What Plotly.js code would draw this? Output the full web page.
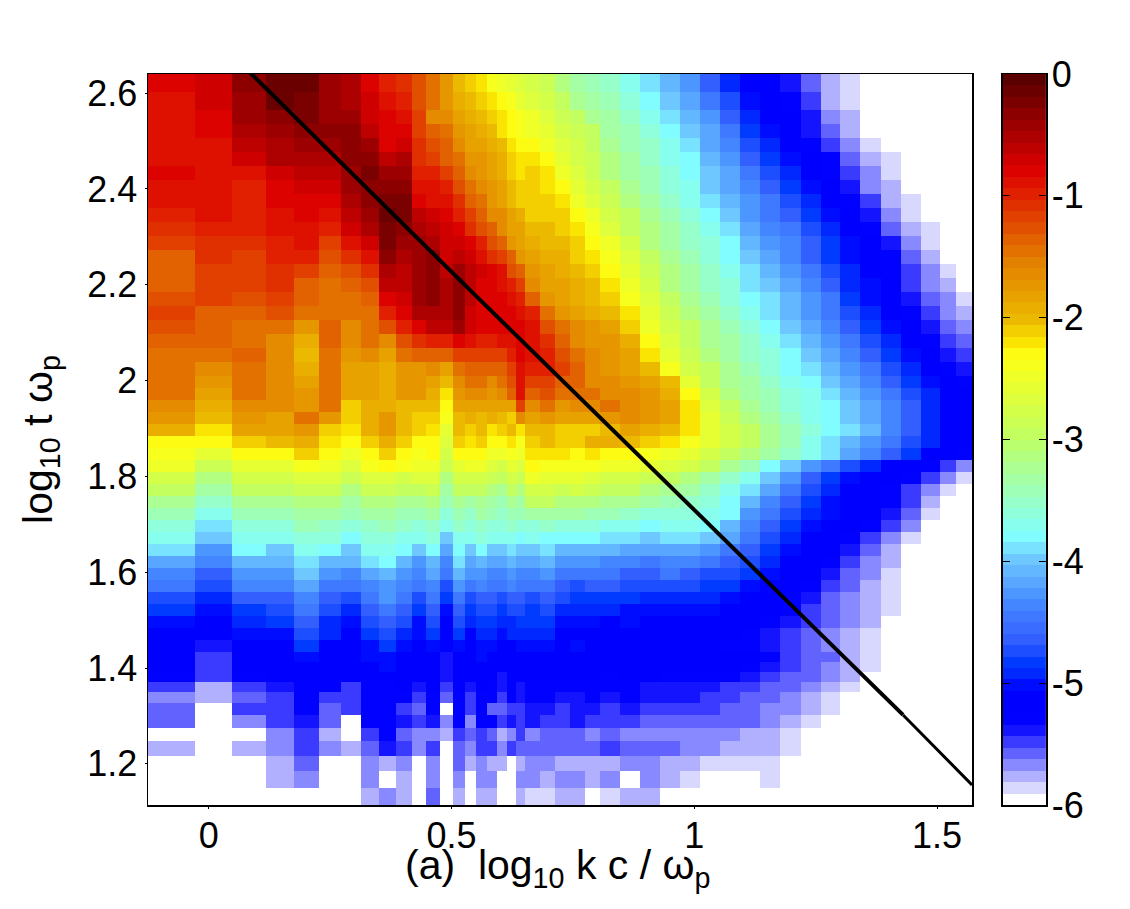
<!DOCTYPE html>
<html>
<head>
<meta charset="utf-8">
<script src="https://cdn.plot.ly/plotly-3.0.1.min.js"></script>
<style>body{margin:0;background:#fff}</style>
</head>
<body>
<div id="chart" style="width:1130px;height:909px"></div>
<script>
"use strict";

// cell edges, log10 k c/wp and log10 t wp
const kEdges = [-0.125,-0.029,0.049,0.118,0.175,0.227,0.272,0.313,0.351,0.386,0.419,0.447,0.476,0.503,0.528,0.551,0.573,0.594,0.614,0.633,0.652,0.682,0.713,0.744,0.775,0.806,0.847,0.889,0.930,0.971,1.012,1.054,1.095,1.136,1.177,1.219,1.260,1.301,1.342,1.384,1.425,1.466,1.507,1.538,1.572];
const tEdges = [1.114,1.149,1.185,1.216,1.248,1.275,1.302,1.327,1.350,1.371,1.392,1.413,1.433,1.458,1.484,1.509,1.534,1.559,1.584,1.609,1.634,1.659,1.684,1.709,1.734,1.759,1.784,1.809,1.834,1.859,1.884,1.909,1.934,1.959,1.985,2.010,2.039,2.068,2.097,2.127,2.156,2.185,2.214,2.243,2.273,2.302,2.331,2.360,2.389,2.418,2.448,2.477,2.506,2.535,2.564,2.602,2.640];

// minus the colour value in tenths, bottom row first; rows stop where the rest is white
const depthRows = [
[60,60,60,60,60,60,60,58,57,58,60,56,60,58,60,58,58,60,60,58,59,59,58,58,60,59,58,58],
[60,60,60,58,57,60,60,57,60,58,60,57,60,57,60,57,57,60,60,57,57,58,57,57,58,57,60,57,58,59,60,60,60,59],
[60,60,60,58,56,60,60,57,58,57,60,57,60,56,58,57,58,58,60,58,57,57,58,58,58,58,57,57,58,58,59,59,59,59],
[58,60,58,57,55,57,58,56,54,55,57,55,60,56,57,55,55,57,55,56,56,56,56,56,56,55,56,56,56,57,57,58,58,58,59],
[60,60,60,57,55,58,60,55,53,56,57,57,58,55,56,55,56,58,57,55,57,56,56,56,57,56,57,57,57,57,57,57,58,58,59],
[56,60,57,55,54,56,60,53,53,54,55,54,57,53,57,53,53,55,54,55,54,55,55,54,55,55,55,56,56,56,56,56,56,57,58,59],
[56,60,55,55,53,56,55,53,53,55,56,53,60,53,55,53,56,56,55,55,54,54,55,54,54,55,54,55,55,55,55,56,56,57,57,58,59],
[57,58,56,55,53,55,55,53,53,53,55,53,56,53,55,53,53,55,53,54,53,53,54,54,53,54,53,54,54,54,55,55,56,56,57,58,59],
[55,58,55,54,53,52,55,53,53,52,54,52,55,52,54,52,53,54,52,54,53,53,53,53,53,53,53,54,54,54,54,55,55,56,56,57,58,59],
[53,55,53,52,52,52,52,51,51,52,52,52,54,52,52,52,52,54,52,52,52,52,52,52,52,53,52,52,53,53,53,53,54,55,56,56,57,58],
[52,55,52,52,52,52,52,51,50,52,52,51,54,52,52,51,51,52,52,52,52,52,52,52,52,52,52,52,52,52,52,52,53,54,55,56,57,58,59],
[52,55,52,52,50,52,52,50,50,51,52,51,54,51,52,50,51,52,52,52,51,51,51,51,51,51,51,51,52,52,52,52,52,53,55,56,56,58,59],
[52,54,52,51,48,51,52,50,48,50,51,50,53,50,52,50,50,51,51,50,50,50,51,50,51,51,51,52,52,52,52,53,53,54,55,56,57,58,59],
[51,52,50,50,47,49,51,48,47,49,50,48,51,48,51,49,49,50,49,49,49,49,51,51,51,51,51,51,52,52,52,52,53,54,55,56,57,58,59],
[50,51,49,48,46,49,50,47,46,47,50,47,51,47,49,48,48,49,49,48,48,48,50,50,50,51,50,51,51,51,51,52,52,53,54,55,56,57,58],
[48,50,48,47,45,47,49,46,45,46,48,46,50,46,48,47,47,48,47,47,48,47,49,49,49,49,50,50,50,50,50,51,52,52,53,55,56,57,58,59],
[47,49,46,46,44,46,47,45,43,45,47,45,48,45,47,46,46,47,46,46,47,46,47,48,48,48,48,49,49,49,49,50,51,52,53,54,56,57,58,59],
[45,47,44,44,42,45,45,44,43,44,45,44,47,43,45,44,45,45,44,45,45,45,46,47,46,46,47,47,47,47,48,48,50,51,52,53,55,56,58,59],
[44,46,43,43,40,43,44,42,41,43,44,42,45,41,43,43,44,44,43,44,44,43,45,45,45,45,46,46,45,46,47,47,48,50,51,52,54,56,57,59],
[42,44,41,41,39,41,41,39,38,41,43,41,44,39,42,41,42,42,41,42,42,41,43,43,43,44,44,45,44,44,45,46,47,49,51,52,53,55,57,58],
[39,43,38,40,37,38,40,37,37,38,40,38,42,38,40,38,40,40,39,40,40,39,41,41,41,41,42,42,42,42,43,45,46,48,50,52,52,54,56,58],
[37,40,37,37,36,36,38,36,36,37,37,36,40,37,37,36,37,37,37,38,37,38,38,38,38,39,39,40,39,39,40,42,45,47,49,51,52,53,55,57,59],
[36,39,36,36,34,35,36,35,34,35,36,35,37,35,36,35,36,36,35,36,36,35,36,36,36,37,37,38,37,37,38,41,44,46,48,50,51,52,53,55,57],
[34,37,34,34,33,33,34,33,33,34,34,33,36,34,35,33,34,35,34,34,33,33,33,33,34,34,35,36,36,36,37,38,43,45,47,49,50,52,52,54,56,59],
[32,35,32,32,31,31,33,31,31,32,32,31,34,32,33,32,33,34,32,33,30,30,31,31,31,32,32,33,34,35,36,38,41,44,46,48,50,51,52,53,55,58],
[30,33,30,30,29,29,31,29,29,30,30,29,33,30,30,30,31,32,30,31,28,28,29,28,29,30,30,31,32,33,35,37,39,42,45,47,49,51,52,53,55,57,59],
[28,31,28,28,27,27,29,27,27,28,27,27,31,28,28,28,29,30,28,29,25,26,26,26,27,28,28,29,30,31,33,35,37,40,43,46,48,50,51,52,53,55,57,59],
[25,29,26,26,24,25,27,24,23,24,25,25,29,26,25,25,27,28,26,27,23,24,24,24,24,25,25,26,27,28,30,32,34,38,40,43,45,47,49,51,52,53,55,57],
[24,26,23,23,21,23,25,23,21,23,24,23,28,23,23,23,25,25,24,25,22,22,22,23,22,23,23,24,25,26,28,30,31,33,35,37,39,42,44,46,48,51,52,53],
[23,23,21,20,19,22,23,21,19,21,23,23,27,21,22,21,23,23,22,24,21,20,21,21,19,19,20,21,22,24,26,28,30,32,34,37,39,41,43,45,47,49,51,52],
[19,22,18,18,17,21,22,19,17,20,21,22,26,20,21,20,22,21,20,22,20,20,21,21,21,20,18,19,20,22,26,28,30,32,34,36,38,39,41,44,46,49,51,52],
[17,20,17,18,15,17,21,19,17,20,21,21,24,20,19,20,19,20,21,16,18,17,18,18,18,17,16,17,18,22,26,29,31,33,35,37,38,40,42,44,46,49,51,52],
[16,19,16,16,17,15,21,19,19,20,20,20,23,18,18,18,18,18,18,12,16,15,17,16,16,15,16,17,18,22,27,30,32,34,36,37,38,40,42,44,46,49,51,52],
[15,18,15,16,17,15,18,18,19,17,17,19,22,17,16,16,17,16,14,9,14,13,15,15,15,16,16,17,19,23,28,31,33,34,36,37,39,41,43,45,47,49,51,52],
[15,17,15,16,18,15,18,18,19,17,17,18,20,16,15,15,16,15,13,9,12,12,14,14,16,16,17,18,20,26,30,32,33,35,37,38,40,42,44,46,48,50,52,53],
[15,16,15,16,19,15,18,18,19,17,17,16,18,15,14,14,14,14,12,9,10,10,12,14,16,17,18,20,24,28,30,32,34,36,38,39,41,43,45,47,49,51,53,54],
[15,15,14,16,20,15,17,16,18,15,14,14,14,12,12,12,12,12,10,8,9,10,13,15,16,17,18,22,26,29,31,33,35,36,38,40,42,44,46,48,50,52,54,55],
[14,14,15,16,19,14,16,15,16,13,11,10,10,8,9,10,10,9,9,8,9,11,14,16,17,17,19,23,27,30,32,33,35,37,39,41,43,45,47,49,51,53,55,56],
[13,14,15,15,17,14,16,15,13,10,8,6,6,4,7,8,8,8,8,8,9,13,15,16,17,18,21,25,28,30,32,34,36,38,40,42,44,46,48,50,52,54,56,57],
[12,14,14,13,15,15,15,15,10,8,5,5,5,3,7,8,8,8,8,9,10,15,17,18,19,20,22,26,29,31,33,35,37,39,41,43,45,47,49,51,53,55,57,58],
[13,12,13,12,14,15,15,14,8,7,4,3,5,3,6,8,8,8,9,10,14,17,18,19,20,21,24,27,30,32,34,36,38,39,41,43,45,48,50,51,54,56,57,59],
[14,12,12,11,14,15,14,13,6,6,4,3,5,3,6,8,8,9,10,12,16,18,18,19,20,22,25,28,31,33,35,36,39,40,42,44,46,49,50,52,55,57,58],
[14,12,12,11,12,14,13,11,5,6,4,3,6,4,6,7,8,9,13,14,17,18,19,20,21,23,26,29,31,33,35,37,39,41,43,45,47,49,51,53,55,57,59],
[14,11,12,10,10,13,11,9,3,5,4,3,7,6,7,9,11,12,14,17,18,19,19,21,22,24,27,30,32,34,36,38,40,42,44,46,48,50,51,53,56,58],
[12,11,11,10,9,12,9,7,2,4,4,5,7,7,8,10,13,14,17,18,19,20,20,21,23,25,28,31,33,35,36,38,41,43,44,46,48,50,52,54,57,59],
[11,10,10,9,9,10,7,5,2,3,5,6,7,8,11,13,14,16,18,18,20,20,21,22,24,27,30,31,33,35,37,39,42,44,45,47,49,51,53,56,58,59],
[10,9,10,9,8,9,6,4,1,2,6,7,8,10,12,14,16,16,18,19,21,21,21,23,25,28,30,32,34,36,38,40,43,45,46,48,50,52,54,57,59],
[9,9,10,8,8,8,5,3,2,2,8,9,9,11,14,15,17,18,20,21,21,21,22,25,27,29,31,33,35,37,39,41,43,45,47,49,51,53,55,58,59],
[9,9,10,8,7,7,4,3,3,3,9,9,10,13,15,16,17,18,20,21,21,22,23,26,28,30,32,34,36,37,40,42,44,46,48,50,52,54,57,58],
[8,9,9,7,6,6,4,2,4,4,10,10,12,14,16,17,18,19,21,22,21,22,25,27,29,31,33,34,36,38,40,42,45,47,49,51,53,55,57,59],
[9,9,7,5,5,5,3,3,6,5,11,12,14,15,17,17,18,19,21,22,22,23,26,28,29,31,33,35,37,38,41,43,46,48,50,51,53,56,58,59],
[9,9,6,5,4,4,3,4,8,7,11,13,14,16,18,18,19,20,22,23,23,25,27,28,30,32,34,35,37,39,42,44,47,49,51,53,55,57,59],
[9,8,5,4,3,3,3,6,8,8,12,14,15,17,18,19,20,22,23,24,25,26,28,29,30,33,34,36,38,40,42,45,48,50,52,54,56,58],
[9,8,4,3,2,4,4,7,8,9,12,16,16,18,19,20,21,22,23,24,25,27,29,30,32,33,35,37,39,41,43,46,49,51,52,54,57,58],
[9,7,4,1,2,4,5,7,9,10,13,15,17,19,20,21,22,23,24,26,27,28,30,32,33,34,36,38,40,42,45,47,50,51,53,55,58,59],
[8,7,3,1,1,4,5,8,10,11,13,15,17,20,21,22,24,25,26,27,28,29,31,33,34,35,37,39,41,43,46,49,51,52,54,56,58,59]
];

// the dispersion line over the map: thick part, then the thin end
const lineLogK = [0.085, 0.5, 1, 1.43];
const lineLogT = [2.643, 2.227, 1.73, 1.302];
const lineEndLogK = [1.43, 1.572];
const lineEndLogT = [1.302, 1.156];

const xTicks = [0, 0.5, 1, 1.5];
const xTickText = ["0", "0.5", "1", "1.5"];
const yTicks = [1.2, 1.4, 1.6, 1.8, 2, 2.2, 2.4, 2.6];
const yTickText = ["1.2", "1.4", "1.6", "1.8", "2", "2.2", "2.4", "2.6"];
const barTicks = [-6, -5, -4, -3, -2, -1, 0];
const barTickText = ["-6", "-5", "-4", "-3", "-2", "-1", "0"];

// value, r, g, b
const colorAnchors = [
    [-6, 255, 255, 255],
    [-5.43, 20, 20, 255],
    [-5.33, 0, 0, 255],
    [-5.08, 0, 0, 255],
    [-5, 0, 30, 255],
    [-4.85, 0, 60, 255],
    [-4.7, 50, 90, 255],
    [-4.34, 70, 140, 255],
    [-4, 110, 200, 255],
    [-3.8, 130, 255, 255],
    [-3, 190, 255, 100],
    [-2.3, 255, 255, 20],
    [-2.18, 250, 225, 0],
    [-2, 235, 185, 0],
    [-1.5, 226, 125, 0],
    [-1, 225, 40, 0],
    [-0.75, 220, 0, 0],
    [0, 90, 0, 0]
];
const colorBands = 64;

function bandColor(value) {
    for (let i = 1; i < colorAnchors.length; i++) {
        const a = colorAnchors[i - 1], b = colorAnchors[i];
        if (value <= b[0]) {
            const f = (value - a[0]) / (b[0] - a[0]);
            const c = [1, 2, 3].map(j => Math.round(a[j] + f * (b[j] - a[j])));
            return `rgb(${c[0]},${c[1]},${c[2]})`;
        }
    }
    return "rgb(90,0,0)";
}

// matlab style colormap, flat bands
const bandScale = [];
for (let i = 0; i < colorBands; i++) {
    const c = bandColor(-6 + 6 * i / (colorBands - 1));
    bandScale.push([i / colorBands, c], [(i + 1) / colorBands, c]);
}

const zValues = depthRows.map(function (row) {
    const full = row.concat(new Array(kEdges.length - 1 - row.length).fill(60));
    return full.map(v => -v / 10);
});

const barEdges = [];
const barValues = [];
for (let i = 0; i <= colorBands; i++) {
    barEdges.push(-6 + 6 * i / colorBands);
    if (i < colorBands) barValues.push([-6 + 6 * (i + 0.5) / colorBands]);
}

const fontFamily = '"Liberation Sans", Arial, sans-serif';
const labelFont = { family: fontFamily, size: 36, color: "#000" };
const titleFont = { family: fontFamily, size: 41, color: "#000" };

const traces = [
    {
        type: "heatmap", x: kEdges, y: tEdges, z: zValues,
        colorscale: bandScale, zmin: -6, zmax: 0, showscale: false, hoverinfo: "skip"
    },
    {
        type: "scatter", mode: "lines", x: lineLogK, y: lineLogT,
        line: { color: "#000", width: 4 }, hoverinfo: "skip"
    },
    {
        type: "scatter", mode: "lines", x: lineEndLogK, y: lineEndLogT,
        line: { color: "#000", width: 3 }, hoverinfo: "skip"
    },
    {
        type: "heatmap", x: [0, 1], y: barEdges, z: barValues, xaxis: "x2", yaxis: "y2",
        colorscale: bandScale, zmin: -6, zmax: 0, showscale: false, hoverinfo: "skip"
    }
];

const layout = {
    width: 1130,
    height: 909,
    margin: { l: 148, r: 84, t: 74, b: 104, pad: 0 },
    paper_bgcolor: "#fff",
    plot_bgcolor: "#fff",
    showlegend: false,
    font: labelFont,
    // x title sits tighter to the tick labels than an axis title can
    annotations: [{
        text: "(a)\u00a0\u00a0log<sub>10</sub> k c / \u03c9<sub>p</sub>",
        xref: "paper", yref: "paper", x: 0.4555, y: -0.086, xanchor: "center", yanchor: "middle",
        showarrow: false, font: titleFont
    }],
    xaxis: {
        domain: [0, 0.9176], range: [-0.125, 1.572], tickvals: xTicks, ticktext: xTickText,
        ticks: "outside", ticklen: 2, tickcolor: "#000", tickfont: labelFont, ticklabelstandoff: -4,
        showgrid: false, zeroline: false, showline: true, mirror: true, linecolor: "#000", linewidth: 1.5
    },
    yaxis: {
        range: [1.114, 2.64], tickvals: yTicks, ticktext: yTickText,
        ticks: "outside", ticklen: 2, tickcolor: "#000", tickfont: labelFont,
        showgrid: false, zeroline: false, showline: true, mirror: true, linecolor: "#000", linewidth: 1.5,
        title: { text: "log<sub>10</sub> t \u03c9<sub>p</sub>", font: titleFont, standoff: 22 }
    },
    xaxis2: {
        domain: [0.952, 1], range: [0, 1], anchor: "y2", showticklabels: false, ticks: "",
        showgrid: false, zeroline: false, showline: true, mirror: true, linecolor: "#000", linewidth: 1.5
    },
    yaxis2: {
        anchor: "x2", side: "right", range: [-6, 0], tickvals: barTicks, ticktext: barTickText,
        ticks: "inside", ticklen: 7, tickcolor: "#000", tickfont: labelFont, ticklabelstandoff: -3,
        showgrid: false, zeroline: false, showline: true, mirror: "ticks", linecolor: "#000", linewidth: 1.5
    }
};

Plotly.newPlot("chart", traces, layout, { displayModeBar: false, staticPlot: true });
</script>
</body>
</html>
